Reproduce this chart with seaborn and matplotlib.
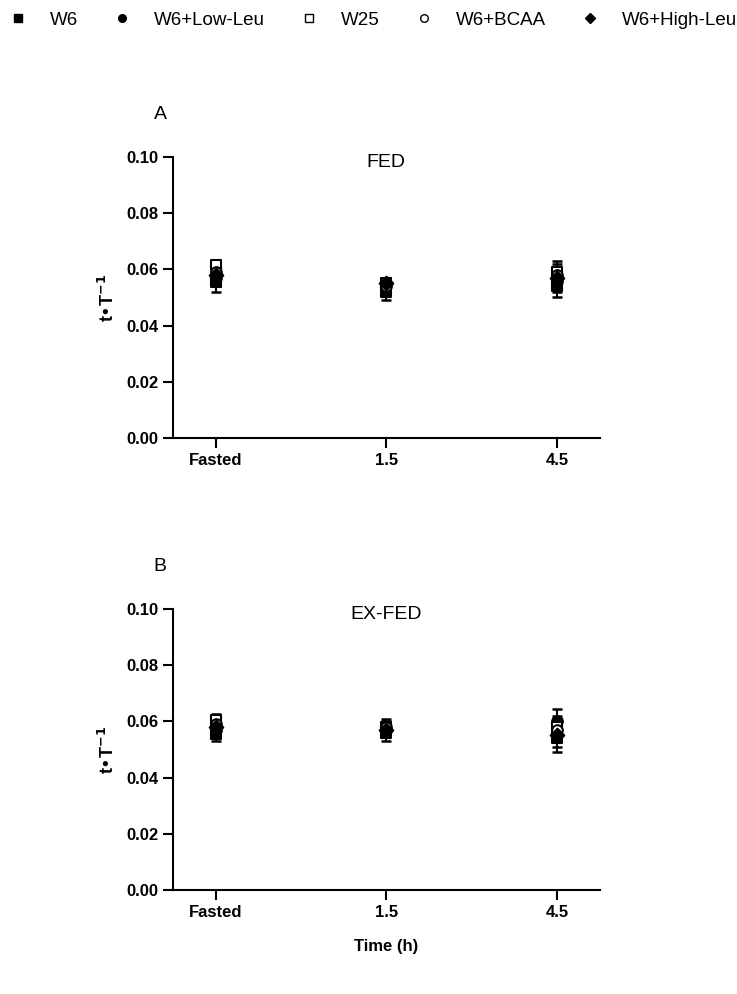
import matplotlib
matplotlib.use("Agg")
import matplotlib.pyplot as plt
import seaborn as sns
import pandas as pd
import numpy as np
from matplotlib.lines import Line2D

sns.set_theme(style="ticks")
plt.rcParams['font.family'] = ['Liberation Sans', 'DejaVu Sans']
plt.rcParams['text.color'] = 'black'
plt.rcParams['axes.labelcolor'] = 'black'

times = ["Fasted", "1.5", "4.5"]
groups = ["W6", "W6+Low-Leu", "W25", "W6+BCAA", "W6+High-Leu"]

# FED panel: means and SEM per group at Fasted, 1.5, 4.5
fed_W6 = [0.0555, 0.052, 0.054]
fed_LowLeu = [0.057, 0.055, 0.056]
fed_W25 = [0.0615, 0.055, 0.059]
fed_BCAA = [0.059, 0.054, 0.058]
fed_HighLeu = [0.058, 0.055, 0.057]
fed_W6_err = [0.0035, 0.003, 0.004]
fed_LowLeu_err = [0.003, 0.002, 0.004]
fed_W25_err = [0.002, 0.002, 0.004]
fed_BCAA_err = [0.002, 0.002, 0.004]
fed_HighLeu_err = [0.002, 0.002, 0.003]

# EX-FED panel
ex_W6 = [0.0555, 0.056, 0.054]
ex_LowLeu = [0.057, 0.057, 0.060]
ex_W25 = [0.0605, 0.058, 0.058]
ex_BCAA = [0.059, 0.058, 0.057]
ex_HighLeu = [0.058, 0.057, 0.055]
ex_W6_err = [0.0025, 0.003, 0.005]
ex_LowLeu_err = [0.002, 0.002, 0.0045]
ex_W25_err = [0.002, 0.003, 0.004]
ex_BCAA_err = [0.002, 0.002, 0.004]
ex_HighLeu_err = [0.002, 0.002, 0.004]

markers = {"W6": "s", "W6+Low-Leu": "o", "W25": "s", "W6+BCAA": "o", "W6+High-Leu": "D"}
faces = {"W6": "black", "W6+Low-Leu": "black", "W25": "white", "W6+BCAA": "white", "W6+High-Leu": "black"}

def make_df(vals, errs):
    rows = []
    for g, v, e in zip(groups, vals, errs):
        for i, t in enumerate(times):
            rows.append({"Time": t, "pos": i, "group": g, "val": v[i], "err": e[i]})
    return pd.DataFrame(rows)

df_fed = make_df([fed_W6, fed_LowLeu, fed_W25, fed_BCAA, fed_HighLeu],
                 [fed_W6_err, fed_LowLeu_err, fed_W25_err, fed_BCAA_err, fed_HighLeu_err])
df_ex = make_df([ex_W6, ex_LowLeu, ex_W25, ex_BCAA, ex_HighLeu],
                [ex_W6_err, ex_LowLeu_err, ex_W25_err, ex_BCAA_err, ex_HighLeu_err])

fig = plt.figure(figsize=(7.37, 9.94), dpi=100)
axA = fig.add_axes([0.2347, 0.5594, 0.579, 0.2827])
axB = fig.add_axes([0.2347, 0.1046, 0.579, 0.2827])

def draw(ax, df, title, letter):
    for g in groups:
        d = df[df.group == g]
        ax.errorbar(d["pos"], d["val"], yerr=d["err"], fmt="none", ecolor="black",
                    elinewidth=1.5, capsize=3.75, capthick=1.8, zorder=2)
    for g in groups:
        d = df[df.group == g]
        sns.scatterplot(x=d["pos"], y=d["val"], ax=ax, marker=markers[g],
                        color=faces[g], edgecolor="black", linewidth=1.5,
                        s=48 if markers[g] == "D" else 58, zorder=3, legend=False)
    ax.set_xlim(-0.25, 2.25)
    ax.set_ylim(0, 0.1)
    ax.set_xticks(range(len(times)))
    ax.set_xticklabels(times, fontweight="bold", fontsize=12)
    ax.set_yticks([0, 0.02, 0.04, 0.06, 0.08, 0.10])
    ax.set_yticklabels(["0.00", "0.02", "0.04", "0.06", "0.08", "0.10"], fontweight="bold", fontsize=12)
    ax.tick_params(axis="both", direction="out", length=7, width=1.5, colors="black")
    for s in ["left", "bottom"]:
        ax.spines[s].set_linewidth(1.5)
        ax.spines[s].set_color("black")
    for s in ["top", "right"]:
        ax.spines[s].set_visible(False)
    ax.set_xlabel("")
    ax.set_ylabel("t\u2022T$^{\\mathbf{-1}}$", fontsize=13, fontweight="bold", labelpad=6)
    ax.text(0.5, 0.98, title, transform=ax.transAxes, ha="center", va="center",
            fontsize=14, color="black")
    ax.text(-0.03, 1.15, letter, transform=ax.transAxes, ha="center", va="center",
            fontsize=14, color="black")

draw(axA, df_fed, "FED", "A")
draw(axB, df_ex, "EX-FED", "B")
axB.text(0.5, -0.2, "Time (h)", transform=axB.transAxes, ha="center", va="center",
         fontsize=12, fontweight="bold", color="black")

handles = [Line2D([], [], linestyle="none", marker=markers[g], markerfacecolor=faces[g],
                  markeredgecolor="black", markersize=5.5 if markers[g] != "D" else 5,
                  markeredgewidth=1) for g in groups]
fig.legend(handles, groups, loc="center left", bbox_to_anchor=(8.6 / 737, 1 - 20 / 994),
           ncol=5, frameon=False, fontsize=13.5, handletextpad=1.2, columnspacing=1.85,
           handlelength=1.0, borderpad=0, borderaxespad=0)

fig.savefig("out.png", dpi=100)
